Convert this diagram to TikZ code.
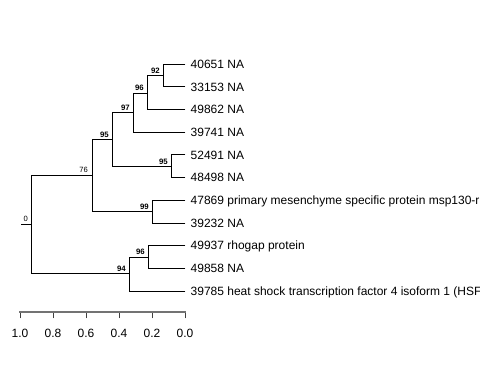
\documentclass[tikz,border=0pt]{standalone}
\usepackage{fontspec}
\setmainfont{Liberation Sans}
\usetikzlibrary{positioning}

\begin{document}
\begin{tikzpicture}[
    x = 1pt, y = -1pt, % one unit = one pixel of the plot, y going down
    branch/.style = {line width = 0.8pt, black, line cap = rect},
    leaflabel/.style = {anchor = west, inner sep = 0pt, text height = 8.6pt, text depth = 0pt, font = \fontsize{12}{14}\selectfont},
    support/.style = {inner sep = 0pt, text height = 5.5pt, text depth = 0pt, font = \fontsize{7.8}{8}\selectfont\bfseries},
    plainsupport/.style = {support, font = \fontsize{7.6}{8}\selectfont},
    scalelabel/.style = {inner sep = 0pt, text height = 8.6pt, text depth = 0pt, font = \fontsize{12}{14}\selectfont}
  ]

  \useasboundingbox (0,0) rectangle (480,384);
  \clip (0,0) rectangle (480,384);

  % inner nodes of the tree
  \coordinate (stem) at (21,224.5);
  \coordinate (root) at (31,224.5);
  \coordinate (n76) at (92,175.5);
  \coordinate (n95a) at (112,139.5);
  \coordinate (n97) at (133,112.5);
  \coordinate (n96a) at (147,93);
  \coordinate (n92) at (163,75.5);
  \coordinate (n95b) at (171,166.5);
  \coordinate (n99) at (152,211.5);
  \coordinate (n94) at (129,273.8);
  \coordinate (n96b) at (148,257);

  % tips and their labels
  \foreach \id/\txt [count=\i from 0] in {
      40651/40651 NA, 33153/33153 NA, 49862/49862 NA, 39741/39741 NA,
      52491/52491 NA, 48498/48498 NA,
      47869/47869 primary mesenchyme specific protein msp130-r,
      39232/39232 NA, 49937/49937 rhogap protein, 49858/49858 NA,
      39785/39785 heat shock transcription factor 4 isoform 1 (HSF}
    {
      \coordinate (t\id) at (185,64+22.7*\i);
      \node[leaflabel] (l\id) [right = 5.5pt of t\id] {\txt};
    }

  % branches
  \draw[branch] (stem) -- (root);
  \foreach \a/\b in {root/n76, root/n94, n76/n95a, n76/n99, n95a/n97, n95a/n95b,
      n97/n96a, n97/t39741, n96a/n92, n96a/t49862, n92/t40651, n92/t33153,
      n95b/t52491, n95b/t48498, n99/t47869, n99/t39232,
      n94/n96b, n94/t39785, n96b/t49937, n96b/t49858}
    \draw[branch] (\a) |- (\b);

  % support values
  \node[plainsupport, anchor = south east] (s0) [above left = 2.5pt and 3pt of root] {0};
  \node[plainsupport, anchor = south east] (s76) [above left = 2.5pt and 4pt of n76] {76};
  \node[support] (s95a) [above left = 2.3pt and 3pt of n95a] {95};
  \node[support] (s97) [above left = 2.3pt and 3pt of n97] {97};
  \node[support] (s96a) [above left = 2.3pt and 3pt of n96a] {96};
  \node[support] (s92) [above left = 2.3pt and 3pt of n92] {92};
  \node[support] (s95b) [above left = 2.3pt and 3pt of n95b] {95};
  \node[support] (s99) [above left = 2.3pt and 3pt of n99] {99};
  \node[support] (s94) [above left = 2.3pt and 3pt of n94] {94};
  \node[support] (s96b) [above left = 2.3pt and 3pt of n96b] {96};

  % scale axis
  \foreach \v [count=\i from 0] in {1.0,0.8,0.6,0.4,0.2,0.0} {
    \coordinate (tick\i) at (20+33*\i,312);
    \draw[branch, black!75] (tick\i) -- ++(0,6);
    \node[scalelabel, anchor = north] (v\i) [below = 17pt of tick\i] {\v};
  }
  \draw[branch, black!55, line width = 1.2pt] (tick0) -- (tick5);
\end{tikzpicture}
\end{document}
